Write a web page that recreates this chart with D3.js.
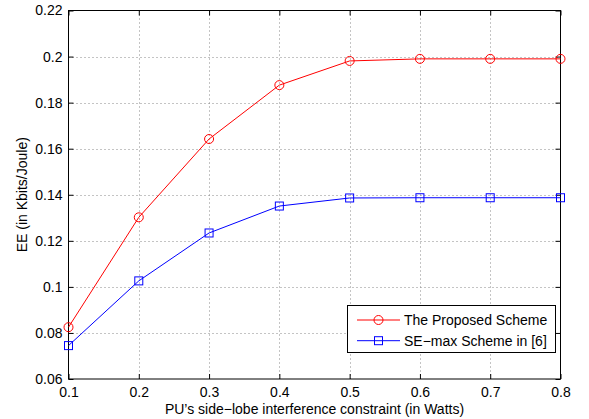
<!DOCTYPE html>
<html>
<head>
<meta charset="utf-8">
<script src="https://cdn.jsdelivr.net/npm/d3@7"></script>
<style>
  html, body { margin: 0; padding: 0; background: #fff; }
  svg { display: block; font-family: "Liberation Sans", Arial, Helvetica, sans-serif; }
</style>
</head>
<body>
<svg id="chart" width="589" height="419"></svg>
<script>
(function () {
    'use strict';

    const xValues = [0.1, 0.2, 0.3, 0.4, 0.5, 0.6, 0.7, 0.8];
    const proposed = [0.0825, 0.1302, 0.1642, 0.1876, 0.1981, 0.1990, 0.1990, 0.1990];
    const seMax = [0.0745, 0.1026, 0.1234, 0.1351, 0.1386, 0.1387, 0.1387, 0.1387];
    const xTicks = [0.1, 0.2, 0.3, 0.4, 0.5, 0.6, 0.7, 0.8];
    const yTicks = [0.06, 0.08, 0.1, 0.12, 0.14, 0.16, 0.18, 0.2, 0.22];
    const seriesNames = ['The Proposed Scheme', 'SE\u2212max Scheme in [6]'];

    const left = 68.5, right = 560.5, top = 10.5, bottom = 379;
    const tickLen = 5;
    const fontSize = 14;

    const svg = d3.select('#chart');
    const x = d3.scaleLinear().domain([0.1, 0.8]).range([left, right]);
    const y = d3.scaleLinear().domain([0.06, 0.22]).range([bottom, top]);
    const fmt = (d) => String(+d.toFixed(2));

    // grid
    const grid = svg.append('g')
        .attr('stroke', '#888')
        .attr('stroke-width', 1)
        .attr('stroke-dasharray', '1,3');
    xTicks.slice(1, -1).forEach((t) => {
        grid.append('line')
            .attr('x1', Math.round(x(t)) + 0.5).attr('x2', Math.round(x(t)) + 0.5)
            .attr('y1', top).attr('y2', bottom);
    });
    yTicks.slice(1, -1).forEach((t) => {
        grid.append('line')
            .attr('x1', left).attr('x2', right)
            .attr('y1', Math.round(y(t)) + 0.5).attr('y2', Math.round(y(t)) + 0.5);
    });

    // axes (MATLAB style, ticks inward on all sides)
    const axisBottom = d3.axisBottom(x).tickValues(xTicks).tickSizeInner(-tickLen).tickSizeOuter(0)
        .tickPadding(8).tickFormat(fmt);
    const axisTop = d3.axisTop(x).tickValues(xTicks).tickSizeInner(-tickLen).tickSizeOuter(0)
        .tickFormat('');
    const axisLeft = d3.axisLeft(y).tickValues(yTicks).tickSizeInner(-tickLen).tickSizeOuter(0)
        .tickPadding(6).tickFormat(fmt);
    const axisRight = d3.axisRight(y).tickValues(yTicks).tickSizeInner(-tickLen).tickSizeOuter(0)
        .tickFormat('');

    const styleAxis = (g) => {
        g.select('.domain').remove();
        g.selectAll('.tick line').attr('stroke', '#000');
        g.selectAll('.tick text').attr('fill', '#000').attr('font-size', fontSize)
            .attr('font-family', '"Liberation Sans", Arial, sans-serif');
    };

    svg.append('g').attr('transform', `translate(0,${bottom})`).call(axisBottom).call(styleAxis);
    svg.append('g').attr('transform', `translate(0,${top})`).call(axisTop).call(styleAxis);
    svg.append('g').attr('transform', `translate(${left},0)`).call(axisLeft).call(styleAxis);
    svg.append('g').attr('transform', `translate(${right},0)`).call(axisRight).call(styleAxis);

    svg.append('rect')
        .attr('x', left).attr('y', top)
        .attr('width', right - left).attr('height', bottom - top)
        .attr('fill', 'none').attr('stroke', '#000').attr('stroke-width', 1);

    // series
    const line = d3.line().x((d, i) => x(xValues[i])).y((d) => y(d));

    svg.append('path').datum(proposed)
        .attr('d', line).attr('fill', 'none').attr('stroke', '#ff0000').attr('stroke-width', 1);
    svg.append('g').selectAll('circle').data(proposed).join('circle')
        .attr('cx', (d, i) => x(xValues[i])).attr('cy', (d) => y(d)).attr('r', 4.5)
        .attr('fill', 'none').attr('stroke', '#ff0000').attr('stroke-width', 1);

    svg.append('path').datum(seMax)
        .attr('d', line).attr('fill', 'none').attr('stroke', '#0000ff').attr('stroke-width', 1);
    svg.append('g').selectAll('rect').data(seMax).join('rect')
        .attr('x', (d, i) => x(xValues[i]) - 4).attr('y', (d) => y(d) - 4)
        .attr('width', 8).attr('height', 8)
        .attr('fill', 'none').attr('stroke', '#0000ff').attr('stroke-width', 1);

    // axis labels
    svg.append('text')
        .attr('x', (left + right) / 2).attr('y', 413.5)
        .attr('text-anchor', 'middle').attr('font-size', fontSize)
        .text('PU\u2019s side\u2212lobe interference constraint (in Watts)');
    svg.append('text')
        .attr('transform', `translate(27,${(top + bottom) / 2}) rotate(-90)`)
        .attr('text-anchor', 'middle').attr('font-size', fontSize)
        .text('EE (in Kbits/Joule)');

    // legend
    const lg = svg.append('g');
    lg.append('rect')
        .attr('x', 347.5).attr('y', 305.5).attr('width', 208).attr('height', 47)
        .attr('fill', '#fff').attr('stroke', '#000').attr('stroke-width', 1);
    const colors = ['#ff0000', '#0000ff'];
    seriesNames.forEach((name, i) => {
        const ry = 320 + i * 20.7;
        lg.append('line')
            .attr('x1', 357).attr('x2', 400).attr('y1', ry).attr('y2', ry)
            .attr('stroke', colors[i]).attr('stroke-width', 1);
        if (i === 0) {
            lg.append('circle').attr('cx', 378.5).attr('cy', ry).attr('r', 4.5)
                .attr('fill', 'none').attr('stroke', colors[i]);
        } else {
            lg.append('rect').attr('x', 374.5).attr('y', ry - 4).attr('width', 8).attr('height', 8)
                .attr('fill', 'none').attr('stroke', colors[i]);
        }
        lg.append('text')
            .attr('x', 404).attr('y', ry + 5).attr('font-size', fontSize)
            .text(name);
    });
})();
</script>
</body>
</html>
